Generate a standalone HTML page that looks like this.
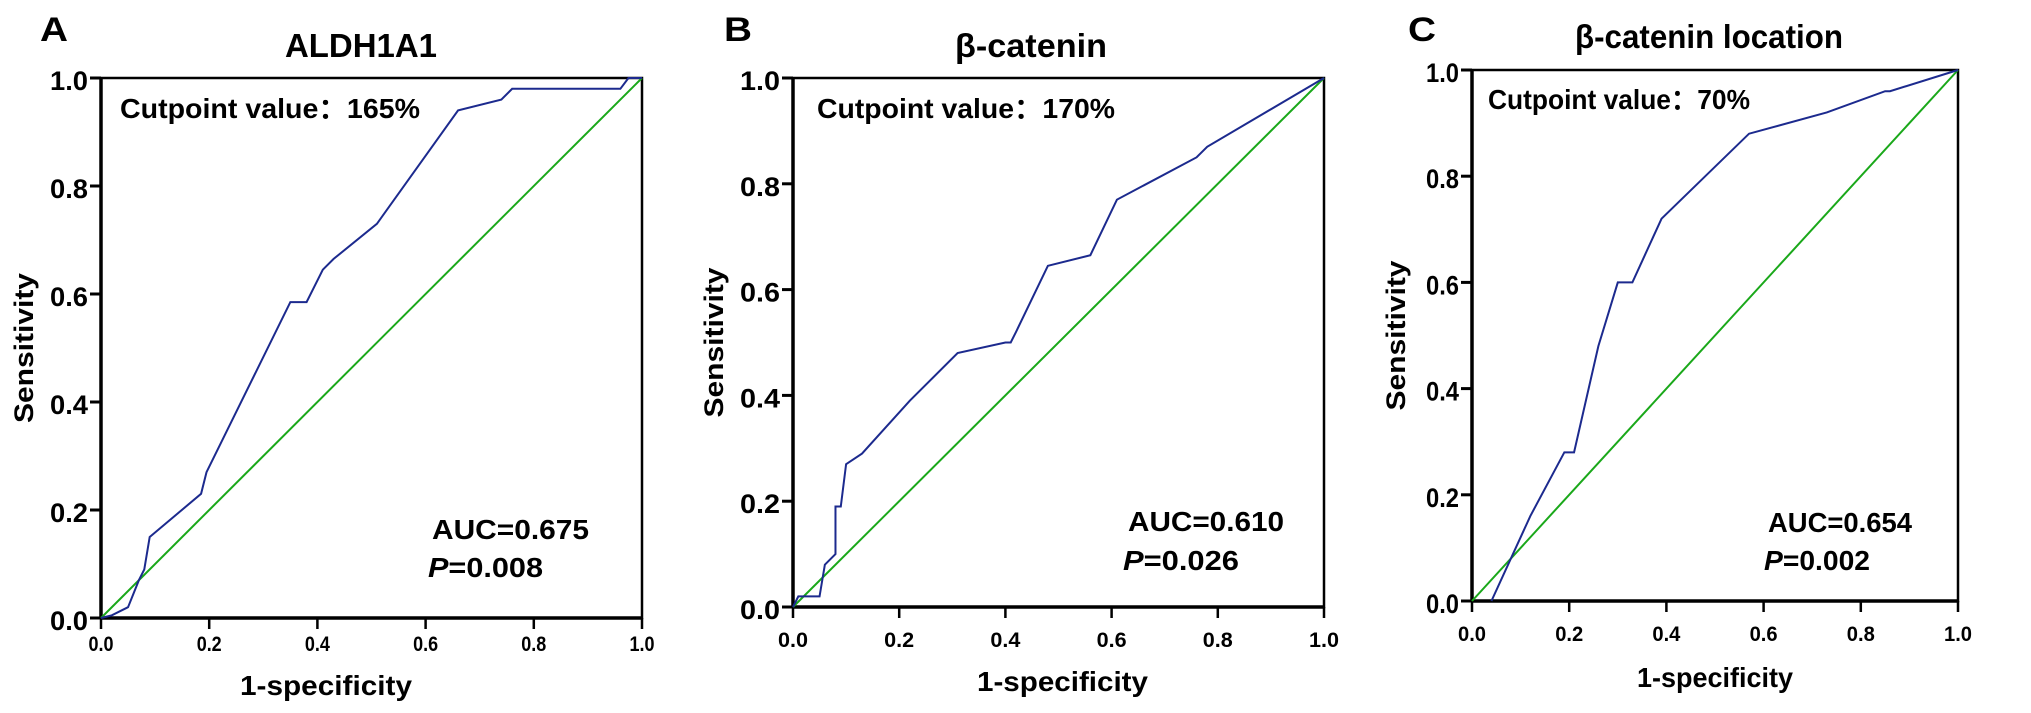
<!DOCTYPE html>
<html><head><meta charset="utf-8"><style>
html,body{margin:0;padding:0;background:#fff;}
svg{display:block;font-family:"Liberation Sans",Arial,sans-serif;}
</style></head>
<body>
<svg id="fig" width="2031" height="713" viewBox="0 0 2031 713" xmlns="http://www.w3.org/2000/svg"></svg>
<script>
const ticks = [0, 0.2, 0.4, 0.6, 0.8, 1.0];
const tickLabels = ["0.0","0.2","0.4","0.6","0.8","1.0"];
const aFpr = [0,0.02,0.05,0.07,0.08,0.09,0.185,0.195,0.35,0.38,0.41,0.43,0.51,0.66,0.74,0.76,0.96,0.975,1];
const aTpr = [0,0.005,0.02,0.07,0.09,0.15,0.23,0.27,0.585,0.585,0.645,0.665,0.73,0.94,0.96,0.98,0.98,1,1];
const bFpr = [0,0.01,0.05,0.06,0.08,0.08,0.09,0.1,0.13,0.22,0.31,0.4,0.41,0.42,0.48,0.56,0.61,0.76,0.78,1];
const bTpr = [0,0.02,0.02,0.08,0.1,0.19,0.19,0.27,0.29,0.39,0.48,0.5,0.5,0.52,0.645,0.665,0.77,0.85,0.87,1];
const cFpr = [0.04,0.12,0.19,0.21,0.26,0.3,0.33,0.35,0.39,0.57,0.73,0.85,0.86,1];
const cTpr = [0,0.16,0.28,0.28,0.48,0.6,0.6,0.64,0.72,0.88,0.92,0.96,0.96,1];
const panels = [
 {id:"a",letter:"A",title:"ALDH1A1",x0:101,x1:642,y0:78,y1:618,fpr:aFpr,tpr:aTpr,
  lx:40,ly:41,tx:285,ty:57,tw:152,
  cut:"Cutpoint value\uFF1A165%",cx:120,cy:118,cw:300,
  auc:"AUC=0.675",ax:432,ay:539,aw:157,p:"=0.008",px:428,py:577,pw:115,
  xtx:240,xty:695,xtw:172,ylw:38,xlw:25,xly:33,yt:33},
 {id:"b",letter:"B",title:"\u03B2-catenin",x0:793,x1:1324,y0:78,y1:607,fpr:bFpr,tpr:bTpr,
  lx:724,ly:41,tx:955,ty:57,tw:152,
  cut:"Cutpoint value\uFF1A170%",cx:817,cy:118,cw:298,
  auc:"AUC=0.610",ax:1128,ay:531,aw:156,p:"=0.026",px:1123,py:570,pw:116,
  xtx:977,xty:691,xtw:171,ylw:40,xlw:30,xly:40,yt:723},
 {id:"c",letter:"C",title:"\u03B2-catenin location",x0:1472,x1:1958,y0:70,y1:601,fpr:cFpr,tpr:cTpr,
  lx:1408,ly:41,tx:1575,ty:48,tw:268,
  cut:"Cutpoint value\uFF1A70%",cx:1488,cy:109,cw:262,
  auc:"AUC=0.654",ax:1768,ay:532,aw:144,p:"=0.002",px:1764,py:570,pw:106,
  xtx:1637,xty:687,xtw:156,ylw:33,xlw:28,xly:40,yt:1405}
];
const NS="http://www.w3.org/2000/svg";
const svg=document.getElementById('fig');
function mk(tag,attrs,parent,text){const e=document.createElementNS(NS,tag);for(const k in attrs)e.setAttribute(k,attrs[k]);if(text!==undefined)e.textContent=text;(parent||svg).appendChild(e);return e;}
panels.forEach(P=>{
 const g=mk('g',{});
 
 
 const sx=v=>P.x0+v*(P.x1-P.x0);
 const sy=v=>P.y1-v*(P.y1-P.y0);
 const L=mk('text',{x:P.lx,y:P.ly,'font-size':34,'font-weight':'bold',textLength:28,lengthAdjust:'spacingAndGlyphs'},g,P.letter);
 
 
 const T=mk('text',{x:P.tx,y:P.ty,'font-size':33,'font-weight':'bold',textLength:P.tw,lengthAdjust:'spacingAndGlyphs'},g,P.title);
 
 
 const F=mk('rect',{x:P.x0,y:P.y0,width:P.x1-P.x0,height:P.y1-P.y0,fill:'none',stroke:'#000','stroke-width':2.5},g);
 
 
 mk('line',{x1:P.x0,y1:P.y0,x2:P.x0,y2:P.y1,stroke:'#000','stroke-width':3.5},g);
 mk('line',{x1:P.x0,y1:P.y1,x2:P.x1,y2:P.y1,stroke:'#000','stroke-width':3.5},g);
 ticks.forEach((t,i)=>{
  mk('line',{x1:P.x0-11,y1:sy(t),x2:P.x0,y2:sy(t),stroke:'#000','stroke-width':3},g);
  const yl=mk('text',{x:P.x0-13-P.ylw,y:sy(t)+12,'font-size':27,'font-weight':'bold',textLength:P.ylw,lengthAdjust:'spacingAndGlyphs'},g,tickLabels[i]);
  
  
  mk('line',{x1:sx(t),y1:P.y1,x2:sx(t),y2:P.y1+11,stroke:'#000','stroke-width':2.5},g);
  const xl=mk('text',{x:sx(t)-P.xlw/2,y:P.y1+P.xly,'font-size':21,'font-weight':'bold',textLength:P.xlw,lengthAdjust:'spacingAndGlyphs'},g,tickLabels[i]);
  
  
 });
 const yt=mk('text',{x:0,y:0,'font-size':27,'font-weight':'bold','text-anchor':'middle',textLength:150,lengthAdjust:'spacingAndGlyphs',transform:`translate(${P.yt},${(P.y0+P.y1)/2}) rotate(-90)`},g,'Sensitivity');
 
 
 const xt=mk('text',{x:P.xtx,y:P.xty,'font-size':28,'font-weight':'bold',textLength:P.xtw,lengthAdjust:'spacingAndGlyphs'},g,'1-specificity');
 
 
 const ref=mk('line',{x1:sx(0),y1:sy(0),x2:sx(1),y2:sy(1),stroke:'#1aa81a','stroke-width':2},g);
 
 
 const pts=P.fpr.map((f,i)=>sx(f)+','+sy(P.tpr[i])).join(' ');
 const roc=mk('polyline',{points:pts,fill:'none',stroke:'#1c2a8e','stroke-width':2},g);
 
 
 const ct=mk('text',{x:P.cx,y:P.cy,'font-size':28,'font-weight':'bold',textLength:P.cw,lengthAdjust:'spacingAndGlyphs'},g,P.cut);
 
 
 const au=mk('text',{x:P.ax,y:P.ay,'font-size':28,'font-weight':'bold',textLength:P.aw,lengthAdjust:'spacingAndGlyphs'},g,P.auc);
 
 
 const pv=mk('text',{x:P.px,y:P.py,'font-size':28,'font-weight':'bold',textLength:P.pw,lengthAdjust:'spacingAndGlyphs'},g);
 
 
 mk('tspan',{'font-style':'italic'},pv,'P');
 mk('tspan',{},pv,P.p);
});
</script>
</body></html>
